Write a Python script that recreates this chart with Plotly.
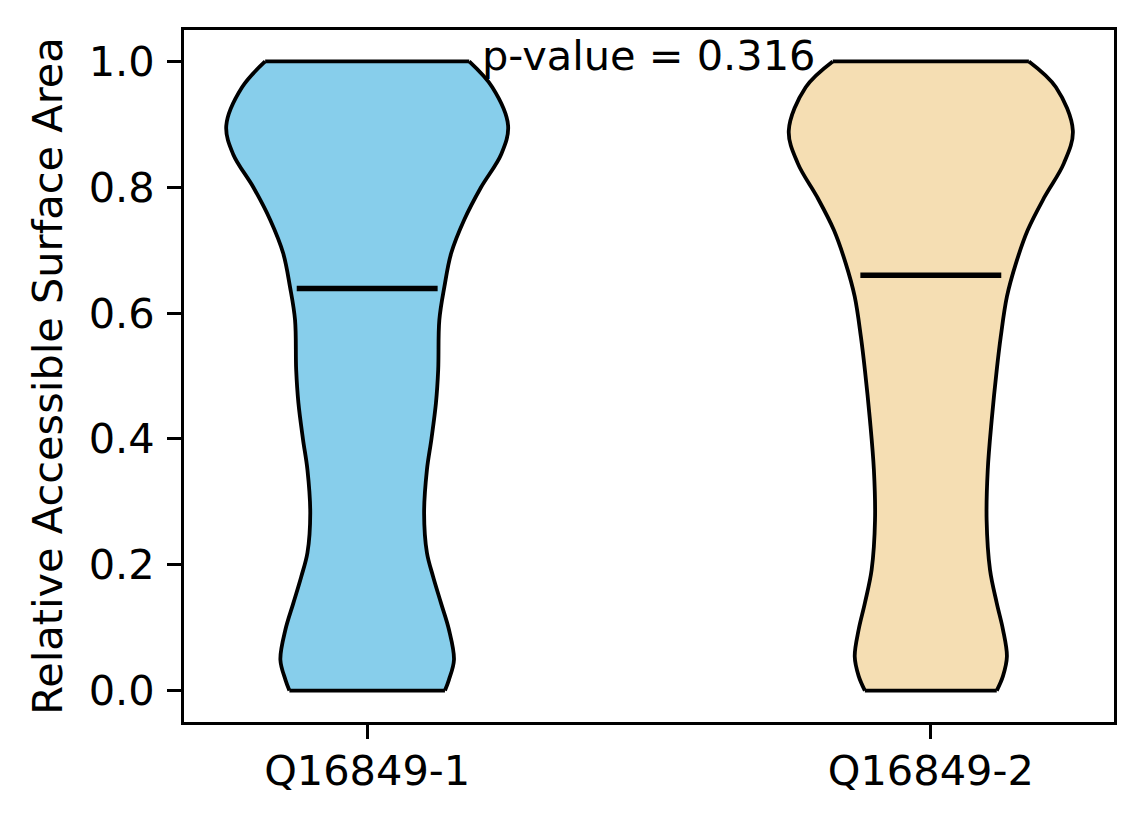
import numpy as np
import plotly.graph_objects as go

# groups and summary values
groups = ["Q16849-1", "Q16849-2"]
positions = [1, 2]
medians = [0.639, 0.660]
p_value = 0.316
colors = ["#87CEEB", "#F5DEB3"]

# violin outlines: RSA level and KDE half-width (x-data units)
rsa_1 = [0.0, 0.017, 0.049, 0.097, 0.139, 0.181, 0.219, 0.282, 0.351, 0.40, 0.457,
         0.51, 0.589, 0.642, 0.695, 0.748, 0.80, 0.853, 0.898, 0.959, 1.0]
half_1 = [0.138, 0.145, 0.154, 0.145, 0.131, 0.117, 0.106, 0.101, 0.106, 0.114, 0.122,
          0.126, 0.128, 0.137, 0.149, 0.172, 0.202, 0.238, 0.250, 0.222, 0.181]

rsa_2 = [0.0, 0.023, 0.054, 0.097, 0.139, 0.192, 0.271, 0.351, 0.430, 0.51, 0.562,
         0.626, 0.679, 0.732, 0.785, 0.838, 0.890, 0.959, 1.0]
half_2 = [0.117, 0.128, 0.135, 0.128, 0.117, 0.105, 0.099, 0.101, 0.108, 0.117, 0.124,
          0.135, 0.151, 0.172, 0.202, 0.236, 0.252, 0.222, 0.174]

FONT = "DejaVu Sans"
FS = 41.5

fig = go.Figure()

for pos, ys, hw, col in zip(positions, [rsa_1, rsa_2], [half_1, half_2], colors):
    ys = np.array(ys)
    hw = np.array(hw)
    edge = dict(color="black", width=3.8, shape="spline", smoothing=1.0)
    # left edge, then right edge filled back to it (flat top and bottom)
    fig.add_trace(go.Scatter(x=pos - hw, y=ys, mode="lines", line=edge,
                             hoverinfo="skip", showlegend=False))
    fig.add_trace(go.Scatter(x=pos + hw, y=ys, mode="lines", line=edge,
                             fill="tonextx", fillcolor=col,
                             hoverinfo="skip", showlegend=False))
    # flat caps at the data min and max
    for i in (0, -1):
        fig.add_trace(go.Scatter(x=[pos - hw[i], pos + hw[i]], y=[ys[i], ys[i]],
                                 mode="lines", line=dict(color="black", width=3.8),
                                 hoverinfo="skip", showlegend=False))

# median bars (matplotlib spans a quarter of the violin width each side)
for pos, med in zip(positions, medians):
    fig.add_trace(go.Scatter(x=[pos - 0.125, pos + 0.125], y=[med, med], mode="lines",
                             line=dict(color="black", width=5.5), showlegend=False, hoverinfo="skip"))

fig.add_annotation(x=1.5, y=1.0, text=f"p-value = {p_value:.3f}", showarrow=False,
                   xanchor="center", yanchor="middle", yshift=6,
                   font=dict(family=FONT, size=FS, color="black"))

axis_common = dict(showline=True, linecolor="black", linewidth=3, mirror=True,
                   ticks="outside", ticklen=14, tickwidth=3, tickcolor="black",
                   showgrid=False, zeroline=False,
                   tickfont=dict(family=FONT, size=FS, color="black"))

fig.update_xaxes(range=[0.675, 2.325], tickmode="array", tickvals=positions,
                 ticktext=groups, ticklabelstandoff=-4, **axis_common)
fig.update_yaxes(range=[-0.05, 1.05], tickmode="array",
                 tickvals=[0.0, 0.2, 0.4, 0.6, 0.8, 1.0], tickformat=".1f",
                 ticklabelstandoff=4,
                 title=dict(text="Relative Accessible Surface Area",
                            font=dict(family=FONT, size=FS, color="black"), standoff=14),
                 **axis_common)

# page body adds an 8px offset, so margins are shifted to keep the axes box in place
fig.update_layout(width=1144, height=824, plot_bgcolor="white", paper_bgcolor="white",
                  margin=dict(l=176, r=38, t=22, b=110),
                  font=dict(family=FONT, size=FS, color="black"))

fig.write_html("out.html")
